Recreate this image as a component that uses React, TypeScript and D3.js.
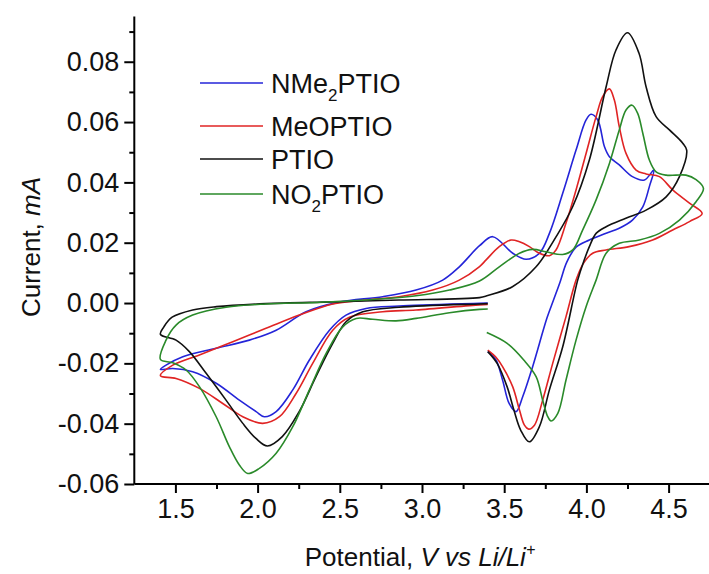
import React, { useEffect, useRef } from "react";
import * as d3 from "d3";

const WIDTH = 709;
const HEIGHT = 574;
const FONT = "'Liberation Sans', Arial, sans-serif";

// axis ranges / ticks
const potentialDomain = [1.25, 4.75];
const currentDomain = [-0.06, 0.095];
const potentialTicks = [1.5, 2.0, 2.5, 3.0, 3.5, 4.0, 4.5];
const potentialMinor = [1.75, 2.25, 2.75, 3.25, 3.75, 4.25, 4.75];
const currentTicks = [-0.06, -0.04, -0.02, 0.0, 0.02, 0.04, 0.06, 0.08];
const currentMinor = [-0.05, -0.03, -0.01, 0.01, 0.03, 0.05, 0.07, 0.09];

// series: [potential V, current mA] in scan order
const nme2ptio = [
  [3.40, -0.0161], [3.45, -0.0189], [3.49, -0.0255], [3.53, -0.0333], [3.572, -0.036],
  [3.613, -0.031], [3.673, -0.0211], [3.76, -0.005], [3.80, 0.001], [3.84, 0.007],
  [3.88, 0.0135], [3.937, 0.0185], [4.018, 0.0209], [4.12, 0.0231], [4.2, 0.0248],
  [4.28, 0.0275], [4.343, 0.0319], [4.383, 0.0386], [4.41, 0.0441], [4.353, 0.0408],
  [4.28, 0.0419], [4.2, 0.0458], [4.14, 0.0485], [4.11, 0.0518], [4.069, 0.0607],
  [4.028, 0.0626], [3.998, 0.0607], [3.937, 0.0507], [3.856, 0.0364], [3.775, 0.0231],
  [3.714, 0.0165], [3.633, 0.0145], [3.552, 0.0165], [3.43, 0.022], [3.35, 0.019],
  [3.227, 0.012], [3.126, 0.0076], [2.964, 0.0043], [2.761, 0.0021], [2.497, 0.0003],
  [2.295, -0.0029], [2.113, -0.009], [1.95, -0.0123], [1.748, -0.015], [1.545, -0.0178],
  [1.443, -0.0206], [1.409, -0.022], [1.484, -0.0217], [1.605, -0.0228], [1.748, -0.0266],
  [1.889, -0.0322], [1.991, -0.036], [2.041, -0.0377], [2.113, -0.036], [2.214, -0.0288],
  [2.315, -0.0189], [2.437, -0.009], [2.538, -0.004], [2.66, -0.0018], [2.86, -0.001],
  [3.35, -0.0001], [3.40, 0.0],
];

const meoptio = [
  [3.40, -0.0156], [3.45, -0.018], [3.49, -0.0211], [3.552, -0.0278], [3.593, -0.0355],
  [3.623, -0.0405], [3.649, -0.0418], [3.684, -0.0405], [3.734, -0.0322], [3.795, -0.02],
  [3.876, -0.0045], [3.937, 0.0076], [3.98, 0.013], [4.038, 0.0165], [4.12, 0.0176],
  [4.26, 0.0187], [4.403, 0.0209], [4.525, 0.0242], [4.627, 0.027], [4.704, 0.0297],
  [4.627, 0.0331], [4.525, 0.0375], [4.444, 0.0419], [4.363, 0.0428], [4.302, 0.0441],
  [4.241, 0.0496], [4.2, 0.0585], [4.17, 0.0673], [4.14, 0.071], [4.099, 0.0684],
  [4.059, 0.0618], [3.998, 0.0496], [3.937, 0.0375], [3.876, 0.0265], [3.815, 0.0176],
  [3.775, 0.0157], [3.714, 0.0165], [3.653, 0.0187], [3.593, 0.0203], [3.542, 0.0209],
  [3.47, 0.0187], [3.39, 0.0143], [3.35, 0.0121], [3.227, 0.0076], [3.065, 0.0043],
  [2.86, 0.0021], [2.66, 0.001], [2.457, -0.0003], [2.254, -0.004], [2.051, -0.0084],
  [1.849, -0.0128], [1.646, -0.0172], [1.484, -0.0206], [1.409, -0.0241], [1.504, -0.025],
  [1.646, -0.0283], [1.788, -0.0333], [1.91, -0.0377], [2.031, -0.0399], [2.133, -0.0377],
  [2.234, -0.03], [2.335, -0.02], [2.457, -0.009], [2.558, -0.0047], [2.761, -0.0029],
  [2.964, -0.0023], [3.35, -0.0006], [3.40, -0.0005],
];

const ptio = [
  [3.40, -0.0161], [3.457, -0.02], [3.518, -0.0278], [3.559, -0.0355], [3.60, -0.0421],
  [3.653, -0.046], [3.714, -0.041], [3.775, -0.0288], [3.856, -0.0145], [3.947, 0.0076],
  [3.985, 0.014], [4.018, 0.0187], [4.059, 0.0231], [4.12, 0.0253], [4.24, 0.0281],
  [4.363, 0.0308], [4.485, 0.0352], [4.566, 0.0419], [4.61, 0.0507], [4.586, 0.053],
  [4.505, 0.0574], [4.424, 0.0618], [4.363, 0.0717], [4.32, 0.0828], [4.25, 0.0896],
  [4.18, 0.0839], [4.12, 0.0717], [4.018, 0.0474], [3.917, 0.032], [3.816, 0.022],
  [3.694, 0.012], [3.55, 0.0054], [3.40, 0.0025], [3.35, 0.0018], [2.86, 0.001],
  [2.457, 0.0004], [2.05, -0.0002], [1.75, -0.0012], [1.605, -0.0023], [1.48, -0.0047],
  [1.43, -0.0079], [1.409, -0.0104], [1.504, -0.0123], [1.585, -0.0161], [1.687, -0.0233],
  [1.808, -0.0322], [1.91, -0.0399], [1.99, -0.0449], [2.06, -0.0474], [2.15, -0.0443],
  [2.253, -0.036], [2.355, -0.0244], [2.457, -0.0134], [2.538, -0.0062], [2.64, -0.0029],
  [2.86, -0.0014], [3.35, -0.0003], [3.40, -0.0002],
];

const no2ptio = [
  [3.394, -0.0098], [3.518, -0.0134], [3.619, -0.0189], [3.694, -0.0244], [3.734, -0.0322],
  [3.765, -0.0377], [3.785, -0.0391], [3.826, -0.0366], [3.876, -0.0255], [3.937, -0.0123],
  [3.998, -0.0012], [4.059, 0.0076], [4.12, 0.0165], [4.2, 0.0198], [4.322, 0.0209],
  [4.444, 0.0231], [4.566, 0.0275], [4.667, 0.0336], [4.712, 0.038], [4.667, 0.0409],
  [4.606, 0.0424], [4.545, 0.0424], [4.485, 0.0424], [4.424, 0.0435], [4.383, 0.0474],
  [4.343, 0.0563], [4.312, 0.0629], [4.278, 0.0656], [4.241, 0.064], [4.2, 0.0574],
  [4.14, 0.0463], [4.059, 0.0342], [3.977, 0.0242], [3.917, 0.0176], [3.856, 0.0161],
  [3.755, 0.017], [3.673, 0.0178], [3.593, 0.0165], [3.47, 0.012], [3.35, 0.0073],
  [3.167, 0.0043], [2.964, 0.0024], [2.66, 0.001], [2.356, 0.0002], [2.05, -0.0003],
  [1.808, -0.0014], [1.605, -0.004], [1.504, -0.0073], [1.443, -0.0123], [1.409, -0.0187],
  [1.484, -0.0198], [1.565, -0.0222], [1.646, -0.0277], [1.748, -0.0377], [1.828, -0.0476],
  [1.889, -0.0537], [1.94, -0.0565], [2.011, -0.0548], [2.113, -0.0498], [2.214, -0.041],
  [2.315, -0.0288], [2.417, -0.0167], [2.518, -0.0079], [2.6, -0.0051], [2.7, -0.0054],
  [2.842, -0.0059], [2.964, -0.0051], [3.167, -0.0032], [3.35, -0.0021], [3.40, -0.002],
];

const seriesNames = [["NMe", "2", "PTIO"], ["MeOPTIO", "", ""], ["PTIO", "", ""], ["NO", "2", "PTIO"]];
const seriesColors = ["#2424d8", "#e02424", "#111111", "#2a8a2a"];
const seriesData = [nme2ptio, meoptio, ptio, no2ptio];

const plot = { left: 134.3, right: 709.7, top: 16.5, bottom: 484 };

export default function App() {
  const ref = useRef<SVGSVGElement>(null);

  useEffect(() => {
    const svg = d3.select(ref.current);
    svg.selectAll("*").remove();

    const x = d3.scaleLinear().domain(potentialDomain).range([plot.left, plot.right]);
    const y = d3.scaleLinear().domain(currentDomain).range([plot.bottom, plot.top]);

    // curves
    const line = d3
      .line<number[]>()
      .x(d => x(d[0]))
      .y(d => y(d[1]))
      .curve(d3.curveCatmullRom.alpha(0.5));

    seriesData.forEach((data, i) => {
      svg
        .append("path")
        .attr("d", line(data))
        .attr("fill", "none")
        .attr("stroke", seriesColors[i])
        .attr("stroke-width", 1.6);
    });

    // y axis
    const yAxis = svg.append("g").attr("transform", `translate(${plot.left},0)`);
    yAxis.call(
      d3.axisLeft(y).tickValues(currentTicks).tickSize(10).tickSizeOuter(0).tickPadding(5)
        .tickFormat(d => (+d).toFixed(2))
    );
    const yMinor = svg.append("g").attr("transform", `translate(${plot.left},0)`);
    yMinor.call(d3.axisLeft(y).tickValues(currentMinor).tickSize(5).tickSizeOuter(0).tickFormat(() => ""));
    yMinor.select(".domain").remove();

    // x axis
    const xAxis = svg.append("g").attr("transform", `translate(0,${plot.bottom})`);
    xAxis.call(
      d3.axisBottom(x).tickValues(potentialTicks).tickSize(9).tickSizeOuter(0).tickPadding(6)
        .tickFormat(d => (+d).toFixed(1))
    );
    const xMinor = svg.append("g").attr("transform", `translate(0,${plot.bottom})`);
    xMinor.call(d3.axisBottom(x).tickValues(potentialMinor).tickSize(5).tickSizeOuter(0).tickFormat(() => ""));
    xMinor.select(".domain").remove();

    [yAxis, yMinor, xAxis, xMinor].forEach(g => {
      g.selectAll("path, line").attr("stroke", "#000").attr("stroke-width", 2);
      g.selectAll("text").attr("font-family", FONT).attr("font-size", 27).attr("fill", "#111");
    });
    xAxis.select(".domain").attr("d", `M${plot.left},0H${plot.right}`);
    yAxis.select(".domain").attr("d", `M0,${plot.top}V${plot.bottom}`);

    // axis titles
    const xt = svg
      .append("text")
      .attr("x", 420)
      .attr("y", 566)
      .attr("text-anchor", "middle")
      .attr("font-family", FONT)
      .attr("font-size", 26)
      .attr("fill", "#111");
    xt.append("tspan").text("Potential, ");
    xt.append("tspan").attr("font-style", "italic").text("V vs Li/Li");
    xt.append("tspan").attr("font-style", "italic").attr("font-size", 16).attr("dy", -11).text("+");

    const yt = svg
      .append("text")
      .attr("transform", "translate(40,247) rotate(-90)")
      .attr("text-anchor", "middle")
      .attr("font-family", FONT)
      .attr("font-size", 26)
      .attr("fill", "#111");
    yt.append("tspan").text("Current, ");
    yt.append("tspan").attr("font-style", "italic").text("mA");

    // legend
    const legendY = [83, 126, 159, 194];
    seriesNames.forEach((name, i) => {
      const g = svg.append("g").attr("transform", `translate(0,${legendY[i]})`);
      g.append("line")
        .attr("x1", 200).attr("x2", 263)
        .attr("stroke", seriesColors[i]).attr("stroke-width", 1.6);
      const t = g.append("text")
        .attr("x", 271).attr("y", 9.5)
        .attr("font-family", FONT).attr("font-size", 27).attr("fill", "#111");
      t.append("tspan").text(name[0]);
      if (name[1]) {
        t.append("tspan").attr("font-size", 17).attr("dy", 8).text(name[1]);
        t.append("tspan").attr("dy", -8).text(name[2]);
      }
    });
  }, []);

  return (
    <svg
      ref={ref}
      width={WIDTH}
      height={HEIGHT}
      style={{ position: "absolute", left: 0, top: 0, background: "#fff" }}
    />
  );
}
